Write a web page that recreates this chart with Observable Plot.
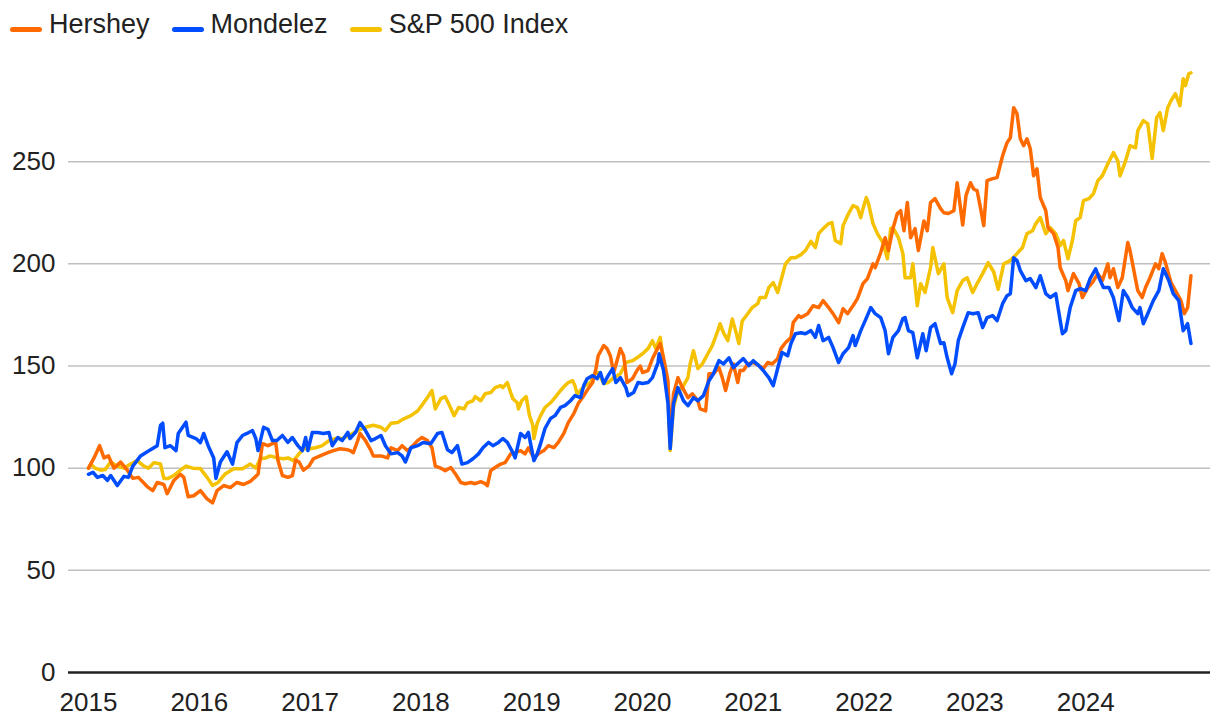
<!DOCTYPE html>
<html><head><meta charset="utf-8">
<script src="https://cdn.jsdelivr.net/npm/d3@7"></script>
<script src="https://cdn.jsdelivr.net/npm/@observablehq/plot@0.6"></script>
<style>
body{margin:0;background:#fff;font-family:"Liberation Sans",Arial,Helvetica,sans-serif;}
#legend{display:flex;align-items:center;height:48px;padding-left:10px;font-size:27px;color:#222;box-sizing:border-box;}
.item{display:flex;align-items:center;margin-right:22px;white-space:nowrap;}
.sw{width:32px;height:5px;border-radius:3px;margin-right:7px;position:relative;top:5px;}
</style></head><body>
<div id="legend"></div><div id="chart"></div>
<script>
const seriesNames = ["Hershey", "Mondelez", "S&P 500 Index"];
const seriesColors = ["#ff6a00", "#004dff", "#f4c200"];
const xTicks = [2015, 2016, 2017, 2018, 2019, 2020, 2021, 2022, 2023, 2024];
const yTicks = [0, 50, 100, 150, 200, 250];

// Hershey: decimal year / indexed value
const hersheyT = [2015.00,2015.05,2015.10,2015.14,2015.18,2015.23,2015.29,2015.35,2015.40,2015.45,2015.53,2015.58,2015.62,2015.68,2015.71,2015.77,2015.83,2015.86,2015.90,2015.95,
2016.01,2016.07,2016.12,2016.16,2016.22,2016.28,2016.34,2016.40,2016.46,2016.51,2016.53,2016.57,2016.62,2016.66,2016.69,2016.71,2016.75,2016.80,2016.84,2016.87,2016.90,2016.94,2016.99,
2017.03,2017.09,2017.16,2017.21,2017.27,2017.34,2017.36,2017.39,2017.43,2017.45,2017.50,2017.55,2017.57,2017.64,2017.70,2017.73,2017.79,2017.83,2017.88,2017.91,2017.97,
2018.01,2018.06,2018.10,2018.13,2018.18,2018.22,2018.27,2018.31,2018.36,2018.40,2018.45,2018.49,2018.54,2018.58,2018.60,2018.63,2018.67,2018.72,2018.76,2018.81,2018.85,2018.90,2018.94,2018.97,
2019.02,2019.06,2019.11,2019.15,2019.20,2019.24,2019.29,2019.33,2019.38,2019.42,2019.47,2019.51,2019.55,2019.58,2019.60,2019.65,2019.68,2019.71,2019.74,2019.77,2019.80,2019.83,2019.86,2019.91,2019.95,2019.98,
2020.00,2020.05,2020.09,2020.14,2020.16,2020.19,2020.23,2020.25,2020.28,2020.32,2020.36,2020.41,2020.45,2020.50,2020.52,2020.57,2020.60,2020.64,2020.69,2020.72,2020.75,2020.79,2020.82,2020.86,2020.88,2020.91,2020.95,
2021.00,2021.05,2021.09,2021.13,2021.17,2021.22,2021.25,2021.29,2021.34,2021.36,2021.41,2021.43,2021.49,2021.54,2021.59,2021.63,2021.68,2021.72,2021.77,2021.81,2021.85,2021.90,2021.94,2021.99,
2022.03,2022.08,2022.10,2022.15,2022.19,2022.22,2022.26,2022.30,2022.33,2022.36,2022.39,2022.42,2022.46,2022.49,2022.54,2022.57,2022.60,2022.64,2022.69,2022.72,2022.76,2022.81,2022.84,2022.89,2022.92,2022.96,2022.99,
2023.02,2023.05,2023.08,2023.11,2023.16,2023.20,2023.25,2023.29,2023.32,2023.35,2023.38,2023.41,2023.44,2023.47,2023.50,2023.53,2023.56,2023.59,2023.64,2023.66,2023.71,2023.75,2023.77,2023.82,2023.84,2023.89,2023.94,2023.97,
2024.02,2024.06,2024.11,2024.15,2024.20,2024.22,2024.25,2024.29,2024.33,2024.38,2024.40,2024.43,2024.47,2024.51,2024.54,2024.58,2024.63,2024.66,2024.69,2024.72,2024.77,2024.81,2024.86,2024.89,2024.92,2024.95];
const hersheyV = [100,105,111,105,106,100,103,99,95,95.5,91,89,93,92,87.5,94,97,95.5,86,86.5,
89,85,83,89,91.5,90.5,93,92,93.5,96,97,112,111,112,112.6,103.7,96.4,95.5,96.4,104,103,99,101,
104.6,106,107.6,108.6,109.5,109,108.6,107.6,113.5,117,113.5,108.6,106,106,105,110,108.6,111,108.6,110,113.5,
115,113.5,110,101,100,98.8,100.3,97.3,93,92.4,93,92.4,93.4,92.4,91.5,98.8,100.3,102,102.7,107,107.6,108.6,107,110,
105,107,108.6,111,110,112.6,117,122.3,126.7,131.6,135.5,138.9,141.9,148.7,155,160,158.5,155,146.8,152.6,158.5,155,141.9,143.8,147.8,150,
146.8,147.8,153.6,159,161,154,142.8,112,136.4,144.3,139.4,134.5,136.4,133,129,128,146.2,146.2,149.2,144.3,138,146.8,151,141.9,147.8,147.8,151,
151.7,150.2,148.7,151.7,151,153.6,158.5,161.4,164,171.2,174.7,173.7,175.6,179.5,178.6,182,178.6,175.6,171.2,178,175.6,179.5,183,190.3,
192.8,200,198.1,205.5,212.8,206.5,217.2,224.6,226,216.2,230,212.8,217.2,206.5,221,216.2,230,231.9,227,225,224.6,226,239.7,219,233.5,239.7,236.5,
235.8,227.5,218.7,240.7,241.7,242.2,252.9,259.3,261.7,276.4,273.5,261.2,257.8,261.2,256.3,243.1,246.5,232.4,226,217.7,214.8,208,198.1,191.8,186.9,195.2,190.3,183.5,
188.4,190.8,195.2,191.8,200,193.2,197.6,188.4,193.2,210.4,206.5,198.1,186.9,183.5,188.4,193.2,200,197.6,205,200.6,190.8,186.9,182,175.6,178.6,194.2];

// Mondelez
const mondelezT = [2015.00,2015.04,2015.08,2015.13,2015.17,2015.20,2015.26,2015.32,2015.36,2015.40,2015.47,2015.53,2015.59,2015.62,2015.65,2015.67,2015.69,2015.74,2015.79,2015.81,2015.88,2015.90,2015.97,
2016.01,2016.04,2016.08,2016.13,2016.15,2016.19,2016.25,2016.30,2016.34,2016.39,2016.43,2016.48,2016.51,2016.53,2016.58,2016.62,2016.66,2016.70,2016.75,2016.80,2016.84,2016.89,2016.93,2016.96,2016.98,
2017.02,2017.07,2017.12,2017.17,2017.20,2017.25,2017.29,2017.34,2017.36,2017.41,2017.45,2017.50,2017.55,2017.59,2017.64,2017.68,2017.73,2017.79,2017.83,2017.86,2017.91,2017.97,
2018.02,2018.09,2018.15,2018.19,2018.24,2018.28,2018.33,2018.37,2018.42,2018.47,2018.52,2018.56,2018.61,2018.65,2018.70,2018.74,2018.78,2018.83,2018.85,2018.90,2018.94,2018.97,
2019.02,2019.05,2019.08,2019.12,2019.17,2019.21,2019.26,2019.30,2019.35,2019.39,2019.44,2019.47,2019.50,2019.55,2019.59,2019.62,2019.65,2019.69,2019.73,2019.76,2019.80,2019.85,2019.87,2019.92,2019.96,
2020.00,2020.05,2020.09,2020.14,2020.15,2020.19,2020.23,2020.25,2020.28,2020.32,2020.37,2020.41,2020.46,2020.50,2020.55,2020.60,2020.64,2020.69,2020.73,2020.78,2020.82,2020.87,2020.91,2020.96,
2021.00,2021.05,2021.09,2021.14,2021.18,2021.23,2021.26,2021.31,2021.34,2021.38,2021.43,2021.47,2021.52,2021.56,2021.59,2021.63,2021.68,2021.72,2021.77,2021.81,2021.86,2021.90,2021.92,2021.97,
2022.01,2022.06,2022.10,2022.15,2022.19,2022.22,2022.26,2022.31,2022.35,2022.37,2022.40,2022.44,2022.48,2022.53,2022.56,2022.60,2022.64,2022.69,2022.72,2022.75,2022.79,2022.82,2022.85,2022.89,2022.94,2022.98,
2023.03,2023.07,2023.11,2023.16,2023.20,2023.25,2023.29,2023.32,2023.35,2023.38,2023.41,2023.46,2023.50,2023.55,2023.59,2023.64,2023.68,2023.73,2023.75,2023.79,2023.82,2023.86,2023.91,2023.95,
2024.00,2024.04,2024.09,2024.12,2024.16,2024.21,2024.25,2024.30,2024.34,2024.38,2024.42,2024.47,2024.49,2024.52,2024.56,2024.61,2024.66,2024.70,2024.75,2024.79,2024.84,2024.88,2024.92,2024.95];
const mondelezV = [97,98,95.5,96.4,94,96.4,91.5,96,95.5,101,106,108,110,111,121,122,110,111,108.6,117,122.5,116,114.5,
112.5,117,111,105,95,103,108,102,112.5,116,117,118.4,114.5,108.6,120,119,113.5,113.5,116,112.6,115,111,108.6,115,108.6,
117.5,117.5,117,117.5,111,115,113.5,117.5,114.5,117.5,122.3,118.4,113.5,114.5,116,111,107,107.6,106,103,110,111,
112.6,112,117,117.5,109,107.6,111,102,102.7,104.6,107,110,112.6,111,112.6,114.5,112.6,107.6,105,117,115,117.5,
103.7,107,112,119.4,124.3,125.7,129.7,130.6,133,135.5,134.5,140.4,143.8,145.3,143.8,146.8,141.4,145.3,148.7,141.9,144.3,139.4,135.5,137,141.9,
141.4,141.9,144.3,151.7,156,147.8,131.6,109.6,131.6,139.4,133,130.6,134.5,133,135.5,142.8,146.2,152.6,151,154,149.2,151.7,153.6,150.2,
152.6,150.2,147.8,144.3,140.4,151,156.6,155,161,165.8,166.3,165.8,167.3,164,169.8,162.4,164,159,151.7,156,159,164.9,160,167.3,
172.2,178.6,175.6,173.7,167.3,156,164,167.3,173.2,173.7,167.3,166.3,154,165.8,157.5,168.8,170.7,161,161.4,154,146.2,151,162.4,168.8,176.1,175.6,
176.1,168.8,173.7,174.7,172.2,180.5,184.4,185.4,203,201.6,196.7,191.8,192.8,188.4,194.2,185.4,183.5,185.4,178.6,165.8,167.3,178.6,186.9,187.9,
186.9,192.8,197.6,193.2,188.4,188.4,183.5,172.2,186.9,183.5,178.6,175.6,178.6,170.7,175.6,182,186.9,197.6,191.8,185.4,182,167.3,170.7,161];

// S&P 500 Index
const spT = [2015.00,2015.02,2015.06,2015.11,2015.15,2015.20,2015.26,2015.32,2015.38,2015.44,2015.50,2015.54,2015.59,2015.65,2015.68,2015.72,2015.77,2015.83,2015.88,2015.94,
2016.01,2016.07,2016.12,2016.17,2016.23,2016.31,2016.39,2016.46,2016.51,2016.55,2016.60,2016.64,2016.70,2016.76,2016.80,2016.85,2016.90,2016.94,2016.99,
2017.05,2017.11,2017.17,2017.23,2017.29,2017.35,2017.43,2017.50,2017.57,2017.64,2017.68,2017.73,2017.79,2017.84,2017.91,2017.97,
2018.02,2018.07,2018.10,2018.13,2018.18,2018.22,2018.25,2018.30,2018.34,2018.39,2018.42,2018.47,2018.49,2018.54,2018.58,2018.63,2018.67,2018.72,2018.74,2018.78,2018.81,2018.83,2018.87,2018.88,2018.91,2018.95,2018.98,
2019.01,2019.02,2019.05,2019.08,2019.12,2019.17,2019.21,2019.26,2019.30,2019.33,2019.37,2019.39,2019.41,2019.44,2019.48,2019.53,2019.57,2019.60,2019.65,2019.69,2019.74,2019.80,2019.85,2019.91,2019.95,
2020.00,2020.05,2020.09,2020.12,2020.16,2020.19,2020.23,2020.25,2020.28,2020.32,2020.36,2020.41,2020.43,2020.46,2020.50,2020.54,2020.59,2020.63,2020.68,2020.70,2020.73,2020.77,2020.81,2020.84,2020.87,2020.90,2020.95,2020.99,
2021.04,2021.06,2021.11,2021.14,2021.18,2021.22,2021.25,2021.29,2021.34,2021.38,2021.43,2021.47,2021.52,2021.56,2021.59,2021.63,2021.68,2021.71,2021.74,2021.79,2021.81,2021.86,2021.90,2021.94,2021.97,2021.99,
2022.02,2022.04,2022.08,2022.12,2022.17,2022.21,2022.24,2022.26,2022.31,2022.35,2022.37,2022.42,2022.44,2022.48,2022.51,2022.55,2022.60,2022.62,2022.67,2022.72,2022.75,2022.80,2022.84,2022.89,2022.93,2022.98,
2023.02,2023.07,2023.12,2023.17,2023.21,2023.26,2023.32,2023.38,2023.43,2023.47,2023.52,2023.55,2023.59,2023.64,2023.68,2023.73,2023.77,2023.80,2023.84,2023.88,2023.91,2023.95,2023.98,
2024.03,2024.07,2024.11,2024.15,2024.20,2024.25,2024.29,2024.31,2024.36,2024.40,2024.45,2024.47,2024.52,2024.56,2024.60,2024.64,2024.67,2024.70,2024.74,2024.77,2024.81,2024.85,2024.88,2024.90,2024.93,2024.95];
const spV = [100,102,100,99,99.3,103,101,100,102,103.7,101,100,102.7,102,95,95,96.4,99,101,100,
99.8,95.5,91.5,93,97,99.7,99.7,102,100,104.6,105,106,105,104.6,105,103.7,107,109.5,109.5,
110,111,113.5,114.5,114.5,116,118.4,120,121,120,118.4,122,122.3,124,125.7,128,
131.6,135.5,138,129,134,135,131.6,125.7,129.7,129,132,133,135,133,136.4,137,139.4,140.4,139.4,141.9,137,134,132,129,133,135,125.7,
121,114.5,122,125.7,129.7,132,134.5,138,140.4,141.9,142.8,140.4,136.4,138,140.4,141.9,146.2,146.8,141.4,141.9,144.3,146.2,151.7,152.6,154,
156,158.5,162.4,158.5,164,152.6,134.5,108.6,129.7,138,139.4,144.3,151,157.5,148.7,151,156,160,167.3,170.7,166.3,162.4,173,167.3,161,172,175.6,178.6,
180.5,183.5,183.5,188.4,190.8,186,191.8,200,203,203,204.5,206.5,211,208,214.8,217.2,219.7,220.2,211.4,209.9,218.7,224.6,228.5,227.5,222.6,227,
232.4,229.5,219.7,214.8,210.4,202.5,217.2,217.7,212.8,205,193.2,193.2,200,179.5,190.3,186,198.1,208,195.2,200,183.5,176.1,186.9,191.8,193.2,186,
190.3,195.2,200.6,196,187.5,200,201.6,205,208,214.8,216.2,219.7,222.6,214.8,217.7,214.8,208.9,211.4,202.5,211.4,221.1,222.6,230.9,
231.9,234.3,240.7,243.1,249,254.4,250.4,243.1,250.4,257.8,256.8,265.2,270.1,268.6,251.5,271.5,274,265.2,276.4,279.8,283.3,277.4,290.6,287.2,293,293.5];

// build table (S&P drawn first, then Hershey, then Mondelez)
const rows = [];
const addSeries = (name, ts, vs) => ts.forEach((t, i) => rows.push({series: name, t, v: vs[i]}));
addSeries(seriesNames[2], spT, spV);
addSeries(seriesNames[0], hersheyT, hersheyV);
addSeries(seriesNames[1], mondelezT, mondelezV);

// legend
const legend = document.getElementById("legend");
seriesNames.forEach((name, i) => {
  const item = document.createElement("div");
  item.className = "item";
  const sw = document.createElement("span");
  sw.className = "sw";
  sw.style.background = seriesColors[i];
  const label = document.createElement("span");
  label.textContent = name;
  item.appendChild(sw);
  item.appendChild(label);
  legend.appendChild(item);
});

const font = '"Liberation Sans", Arial, Helvetica, sans-serif';
const chart = Plot.plot({
  width: 1220,
  height: 676,
  marginTop: 11,
  marginBottom: 52,
  marginLeft: 68,
  marginRight: 10,
  style: {fontFamily: font, fontSize: "26px", color: "#222", background: "#fff"},
  x: {domain: [2014.8195, 2025.1264], label: null},
  y: {domain: [0, 300], label: null},
  color: {domain: seriesNames, range: seriesColors},
  marks: [
    Plot.gridY(yTicks.filter(d => d > 0), {stroke: "#c0c0c0", strokeOpacity: 1, strokeWidth: 1.5}),
    Plot.axisX({ticks: xTicks, tickSize: 0, tickPadding: 20, tickFormat: d => String(d), fontSize: 26, label: null}),
    Plot.axisY({ticks: yTicks, tickSize: 0, tickPadding: 13, fontSize: 26, label: null}),
    Plot.lineY(rows, {x: "t", y: "v", z: "series", stroke: "series", strokeWidth: 3.5, strokeLinejoin: "round", strokeLinecap: "round"}),
    Plot.ruleY([0], {stroke: "#222", strokeWidth: 2.5})
  ]
});
document.getElementById("chart").appendChild(chart);
</script>
</body></html>
